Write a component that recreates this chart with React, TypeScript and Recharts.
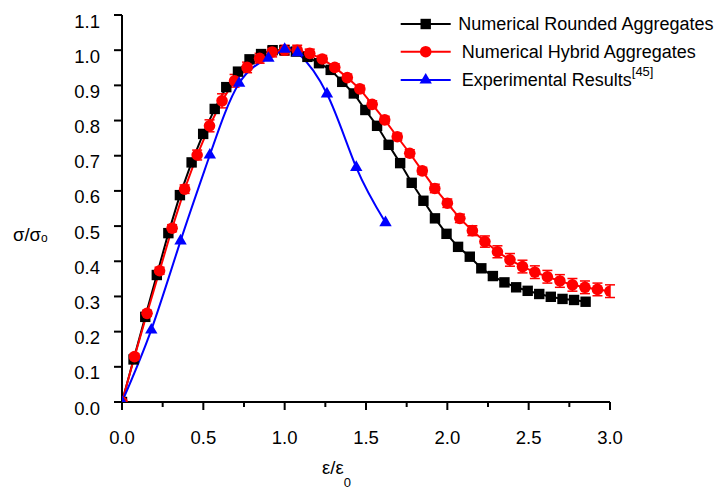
import React from 'react';
import { LineChart, Line, XAxis, YAxis, ErrorBar } from 'recharts';

// Numerical Rounded Aggregates
const roundedX = [0, 0.071, 0.143, 0.214, 0.285, 0.356, 0.428, 0.499, 0.57, 0.641, 0.713, 0.784, 0.855, 0.926, 0.998, 1.069, 1.14, 1.211, 1.283, 1.354, 1.425, 1.496, 1.568, 1.639, 1.71, 1.781, 1.853, 1.924, 1.995, 2.066, 2.138, 2.209, 2.28, 2.351, 2.423, 2.494, 2.565, 2.636, 2.708, 2.779, 2.85];
const roundedY = [0, 0.121, 0.242, 0.361, 0.48, 0.588, 0.681, 0.762, 0.833, 0.895, 0.939, 0.974, 0.989, 1.0, 1.0, 0.996, 0.981, 0.963, 0.944, 0.91, 0.877, 0.83, 0.785, 0.731, 0.679, 0.623, 0.572, 0.522, 0.478, 0.441, 0.413, 0.38, 0.358, 0.34, 0.326, 0.316, 0.307, 0.299, 0.293, 0.29, 0.285];
const roundedErr = [0, 0.004, 0.004, 0.005, 0.005, 0.006, 0.006, 0.008, 0.008, 0.01, 0.01, 0.01, 0.01, 0.01, 0.01, 0.008, 0.008, 0.006, 0.006, 0.006, 0.006, 0.006, 0.006, 0.006, 0.006, 0.006, 0.006, 0.006, 0.006, 0.006, 0.006, 0.006, 0.006, 0.006, 0.006, 0.006, 0.006, 0.006, 0.006, 0.006, 0.006];

// Numerical Hybrid Aggregates
const hybridX = [0, 0.077, 0.154, 0.231, 0.308, 0.385, 0.462, 0.538, 0.615, 0.692, 0.769, 0.846, 0.923, 1.0, 1.077, 1.154, 1.231, 1.308, 1.385, 1.462, 1.538, 1.615, 1.692, 1.769, 1.846, 1.923, 2.0, 2.077, 2.154, 2.231, 2.308, 2.385, 2.462, 2.538, 2.615, 2.692, 2.769, 2.846, 2.923, 3.0];
const hybridY = [0, 0.129, 0.252, 0.373, 0.494, 0.605, 0.702, 0.785, 0.856, 0.913, 0.951, 0.977, 0.995, 1.0, 1.0, 0.991, 0.975, 0.951, 0.922, 0.89, 0.846, 0.802, 0.754, 0.707, 0.657, 0.607, 0.565, 0.522, 0.487, 0.456, 0.427, 0.404, 0.385, 0.369, 0.356, 0.344, 0.333, 0.326, 0.32, 0.315];
const hybridErr = [0, 0.008, 0.008, 0.01, 0.01, 0.012, 0.014, 0.017, 0.02, 0.018, 0.015, 0.014, 0.014, 0.014, 0.014, 0.012, 0.01, 0.01, 0.01, 0.01, 0.01, 0.01, 0.01, 0.01, 0.01, 0.012, 0.012, 0.012, 0.014, 0.016, 0.017, 0.018, 0.018, 0.018, 0.018, 0.018, 0.018, 0.018, 0.018, 0.018];

// Experimental Results [45]
const expX = [0, 0.18, 0.36, 0.54, 0.72, 0.9, 1.0, 1.08, 1.26, 1.44, 1.62];
const expY = [0, 0.205, 0.458, 0.702, 0.906, 0.977, 1.003, 0.993, 0.876, 0.667, 0.51];

const xTicks = [0, 0.25, 0.5, 0.75, 1.0, 1.25, 1.5, 1.75, 2.0, 2.25, 2.5, 2.75, 3.0];
const yTicks = [0, 0.1, 0.2, 0.3, 0.4, 0.5, 0.6, 0.7, 0.8, 0.9, 1.0, 1.1];

const seriesNames = ['Numerical Rounded Aggregates', 'Numerical Hybrid Aggregates', 'Experimental Results'];
const expRef = '[45]';

const roundedData = roundedX.map((x, i) => ({ x, y: roundedY[i], e: roundedErr[i] }));
const hybridData = hybridX.map((x, i) => ({ x, y: hybridY[i], e: hybridErr[i] }));
const expData = expX.map((x, i) => ({ x, y: expY[i] }));

const FONT = '"Liberation Sans", Arial, Helvetica, sans-serif';
const FS = 18.5;
const LFS = 18;

const XTick = (props: any) => {
  const { x, y, payload } = props;
  const v = payload.value;
  const major = Math.abs(v * 2 - Math.round(v * 2)) < 1e-6;
  return (
    <g>
      <line x1={x} x2={x} y1={y} y2={y + (major ? 8 : 5)} stroke="#000" strokeWidth={2} />
      {major && (
        <text x={x} y={y + 35} textAnchor="middle" dominantBaseline="central" fontSize={FS} fontFamily={FONT} fill="#000">
          {v.toFixed(1)}
        </text>
      )}
    </g>
  );
};

const YTick = (props: any) => {
  const { x, y, payload } = props;
  const v = payload.value;
  return (
    <g>
      <line x1={x - 8} x2={x} y1={y} y2={y} stroke="#000" strokeWidth={2} />
      <text x={x - 22} y={y + 6} textAnchor="end" dominantBaseline="central" fontSize={FS} fontFamily={FONT} fill="#000">
        {v.toFixed(1)}
      </text>
    </g>
  );
};

const Square = (p: any) => {
  if (p.cx == null || p.cy == null) return <g key={p.index} />;
  return <rect key={p.index} x={p.cx - 5.2} y={p.cy - 5.2} width={10.4} height={10.4} fill="#000" />;
};
const Circle = (p: any) => {
  if (p.cx == null || p.cy == null) return <g key={p.index} />;
  return <circle key={p.index} cx={p.cx} cy={p.cy} r={5.8} fill="#ff0000" />;
};
const Tri = (p: any) => {
  if (p.cx == null || p.cy == null) return <g key={p.index} />;
  const { cx, cy } = p;
  return <path key={p.index} d={`M${cx},${cy - 7} L${cx + 6.2},${cy + 3.6} L${cx - 6.2},${cy + 3.6} Z`} fill="#0000ff" />;
};

const LegendBox = () => (
  <svg width={324} height={100} style={{ position: 'absolute', left: 392, top: 0, overflow: 'visible' }}>
    <g>
      <line x1={0.7} x2={50.7} y1={16} y2={16} stroke="#000" strokeWidth={2} />
      <rect x={20.5} y={10.8} width={10.4} height={10.4} fill="#000" />
      <text x={58.3} y={16} dominantBaseline="central" fontSize={LFS} fontFamily={FONT} fill="#000">{seriesNames[0]}</text>
    </g>
    <g>
      <line x1={0.7} x2={50.7} y1={43.7} y2={43.7} stroke="#ff0000" strokeWidth={2} />
      <circle cx={25.7} cy={43.7} r={5.8} fill="#ff0000" />
      <text x={61.7} y={43.7} dominantBaseline="central" fontSize={LFS} fontFamily={FONT} fill="#000">{seriesNames[1]}</text>
    </g>
    <g>
      <line x1={0.7} x2={50.7} y1={72} y2={72} stroke="#0000ff" strokeWidth={2} />
      <path d={`M25.7,${72 - 7} L${25.7 + 6.2},${72 + 3.6} L${25.7 - 6.2},${72 + 3.6} Z`} fill="#0000ff" />
      <text x={61.7} y={78.4} fontSize={LFS} fontFamily={FONT} fill="#000">
        {seriesNames[2]}
        <tspan dy={-10} fontSize={13}>{expRef}</tspan>
      </text>
    </g>
  </svg>
);

const YTitle = () => (
  <text x={5} y={232.7} fontSize={FS} fontFamily={FONT} fill="#000">
    σ/σ<tspan fontSize={12} dy={1}>o</tspan>
  </text>
);

const XTitle = () => (
  <text x={314} y={466} fontSize={FS} fontFamily={FONT} fill="#000">
    ε/ε<tspan fontSize={13} dy={13}>0</tspan>
  </text>
);

export default function App() {
  return (
    <div style={{ position: 'relative', width: 716, height: 482 }}>
      <LineChart width={716} height={482} margin={{ top: 7, right: 114, bottom: 28, left: 54 }}>
        <XAxis
          type="number"
          dataKey="x"
          domain={[0, 3]}
          ticks={xTicks}
          interval={0}
          tick={XTick}
          tickLine={false}
          tickSize={0}
          tickMargin={0}
          height={60}
          axisLine={{ stroke: '#000', strokeWidth: 2 }}
          label={<XTitle />}
          allowDataOverflow
        />
        <YAxis
          type="number"
          dataKey="y"
          domain={[0, 1.1]}
          ticks={yTicks}
          interval={0}
          tick={YTick}
          tickLine={false}
          tickSize={0}
          tickMargin={0}
          width={60}
          axisLine={{ stroke: '#000', strokeWidth: 2 }}
          label={<YTitle />}
          allowDataOverflow
        />
        <Line data={roundedData} dataKey="y" name={seriesNames[0]} type="linear" stroke="#000" strokeWidth={2} dot={Square} activeDot={false} isAnimationActive={false}>
          <ErrorBar dataKey="e" direction="y" width={3} stroke="#000" strokeWidth={1} />
        </Line>
        <Line data={hybridData} dataKey="y" name={seriesNames[1]} type="linear" stroke="#ff0000" strokeWidth={2} dot={Circle} activeDot={false} isAnimationActive={false}>
          <ErrorBar dataKey="e" direction="y" width={5} stroke="#ff0000" strokeWidth={1.5} />
        </Line>
        <Line data={expData} dataKey="y" name={seriesNames[2]} type="natural" stroke="#0000ff" strokeWidth={2} dot={Tri} activeDot={false} isAnimationActive={false} />
      </LineChart>
      <LegendBox />
    </div>
  );
}
